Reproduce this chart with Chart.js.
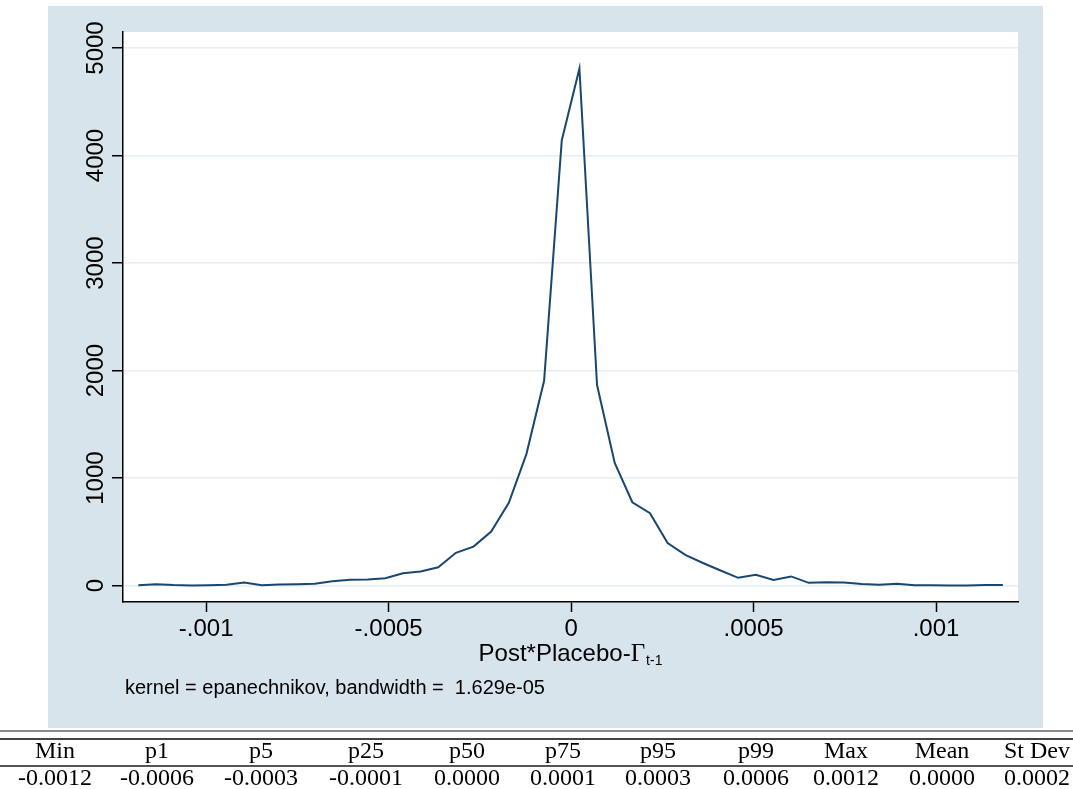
<!DOCTYPE html>
<html>
<head>
<meta charset="utf-8">
<script src="https://cdn.jsdelivr.net/npm/chart.js@4.4.0/dist/chart.umd.min.js"></script>
<style>
body { margin: 0; background: #fff; }
#wrap { position: relative; width: 1073px; height: 789px; overflow: hidden; }
#densityChart { position: absolute; left: 0; top: 0; }
.rule { position: absolute; left: 0; width: 1073px; }
.cell { position: absolute; width: 110px; text-align: center; font-family: "Liberation Serif", "Times New Roman", serif;
        font-size: 24px; line-height: 24px; color: #000; white-space: nowrap; }
</style>
</head>
<body>
<div id="wrap">
    <canvas id="densityChart" width="1073" height="789"></canvas>
    <div class="rule" style="top:730px;height:2px;background:#8a8a8a"></div>
    <div class="rule" style="top:738px;height:1.5px;background:#444"></div>
    <div class="rule" style="top:765px;height:1.5px;background:#555"></div>
</div>
<script>
// grid of the kernel density estimate (x) and the estimated density (y)
var gridPoints = [
    -0.0011860, -0.0011377, -0.0010893, -0.0010410, -0.0009926, -0.0009443, -0.0008959, -0.0008476, -0.0007992, -0.0007509,
    -0.0007025, -0.0006542, -0.0006058, -0.0005575, -0.0005091, -0.0004608, -0.0004124, -0.0003641, -0.0003157, -0.0002674,
    -0.0002190, -0.0001707, -0.0001223, -0.0000740, -0.0000256, 0.0000228, 0.0000711, 0.0001195, 0.0001678, 0.0002162,
    0.0002645, 0.0003129, 0.0003612, 0.0004096, 0.0004579, 0.0005063, 0.0005546, 0.0006030, 0.0006513, 0.0006997,
    0.0007480, 0.0007964, 0.0008447, 0.0008931, 0.0009414, 0.0009898, 0.0010381, 0.0010865, 0.0011348, 0.0011832
];
var density = [
    2, 12, 4, 1, 3, 8, 28, 3, 9, 13,
    17, 40, 55, 56, 68, 115, 130, 170, 305, 362,
    502, 770, 1225, 1905, 4140, 4810, 1865, 1140, 775, 673,
    395, 285, 210, 140, 72, 100, 52, 85, 25, 31,
    28, 14, 7, 16, 2, 2, 0, 0, 6, 4
];
var xTickValues = [-0.001, -0.0005, 0, 0.0005, 0.001];
var xTickLabels = ['-.001', '-.0005', '0', '.0005', '.001'];
var yTickValues = [0, 1000, 2000, 3000, 4000, 5000];
var yTickLabels = ['0', '1000', '2000', '3000', '4000', '5000'];
var statNames = ['Min', 'p1', 'p5', 'p25', 'p50', 'p75', 'p95', 'p99', 'Max', 'Mean', 'St Dev'];
var statValues = ['-0.0012', '-0.0006', '-0.0003', '-0.0001', '0.0000', '0.0001', '0.0003', '0.0006', '0.0012', '0.0000', '0.0002'];
var noteText = 'kernel = epanechnikov, bandwidth =  1.629e-05';

var sans = '"Liberation Sans", Arial, sans-serif';
var bgBlue = 'rgb(216,228,235)';

// summary table under the graph
var colCenters = [55, 157, 261, 366, 467, 563, 658, 756, 846, 942, 1037];
var wrap = document.getElementById('wrap');
statNames.forEach(function (name, i) {
    var head = document.createElement('div');
    head.className = 'cell';
    head.style.left = (colCenters[i] - 55) + 'px';
    head.style.top = '738px';
    head.textContent = name;
    wrap.appendChild(head);
    var val = document.createElement('div');
    val.className = 'cell';
    val.style.left = (colCenters[i] - 55) + 'px';
    val.style.top = '765px';
    val.textContent = statValues[i];
    wrap.appendChild(val);
});

var stataFrame = {
    id: 'stataFrame',
    beforeDraw: function (chart) {
        var ctx = chart.ctx, a = chart.chartArea;
        ctx.save();
        ctx.fillStyle = '#fff';
        ctx.fillRect(0, 0, chart.width, chart.height);
        ctx.fillStyle = bgBlue;
        ctx.fillRect(48, 6, 995, 722);
        ctx.fillStyle = '#fff';
        ctx.fillRect(a.left, a.top, a.right - a.left, a.bottom - a.top);
        ctx.restore();
    },
    afterDraw: function (chart) {
        var ctx = chart.ctx, a = chart.chartArea, yScale = chart.scales.y;
        ctx.save();
        ctx.fillStyle = '#000';

        // rotated y tick labels
        ctx.font = '24px ' + sans;
        ctx.textAlign = 'center';
        ctx.textBaseline = 'alphabetic';
        yTickValues.forEach(function (v, i) {
            ctx.save();
            ctx.translate(103, yScale.getPixelForValue(v));
            ctx.rotate(-Math.PI / 2);
            ctx.fillText(yTickLabels[i], 0, 0);
            ctx.restore();
        });

        // x axis title with subscript
        var main = 'Post*Placebo-', gam = '\u0393', sub = 't-1';
        ctx.textAlign = 'left';
        ctx.font = '24px ' + sans;
        var w1 = ctx.measureText(main).width;
        ctx.font = '25px "Liberation Serif", serif';
        var w2 = ctx.measureText(gam).width;
        ctx.font = '14px ' + sans;
        var w3 = ctx.measureText(sub).width;
        var x0 = (a.left + a.right) / 2 - (w1 + w2 + w3 + 1) / 2;
        ctx.font = '24px ' + sans;
        ctx.fillText(main, x0, 661);
        ctx.font = '25px "Liberation Serif", serif';
        ctx.fillText(gam, x0 + w1, 661);
        ctx.font = '14px ' + sans;
        ctx.fillText(sub, x0 + w1 + w2 + 1, 665);

        // kernel note
        ctx.font = '20px ' + sans;
        ctx.fillText(noteText, 125, 694);
        ctx.restore();
    }
};

var densityCtx = document.getElementById('densityChart').getContext('2d');
var densityChart = new Chart(densityCtx, {
    type: 'line',
    data: {
        datasets: [{
            data: gridPoints.map(function (x, i) { return { x: x, y: density[i] }; }),
            borderColor: '#1a476f',
            borderWidth: 2,
            pointRadius: 0,
            tension: 0,
            fill: false
        }]
    },
    options: {
        responsive: false,
        animation: false,
        devicePixelRatio: 1,
        layout: { padding: { left: 48, right: 55, top: 32, bottom: 127 } },
        plugins: { legend: { display: false }, tooltip: { enabled: false } },
        scales: {
            x: {
                type: 'linear',
                min: -0.001228,
                max: 0.0012247,
                afterBuildTicks: function (scale) {
                    scale.ticks = xTickValues.map(function (v) { return { value: v }; });
                },
                afterFit: function (scale) { scale.height = 60; },
                ticks: {
                    callback: function (v) { return xTickLabels[xTickValues.indexOf(v)]; },
                    font: { size: 24, family: sans },
                    color: '#000',
                    padding: 3,
                    minRotation: 0,
                    maxRotation: 0,
                    autoSkip: false
                },
                grid: { drawOnChartArea: false, tickLength: 10, tickColor: '#000', tickWidth: 1.5 },
                border: { color: '#000', width: 1.5 }
            },
            y: {
                min: -153,
                max: 5149,
                afterBuildTicks: function (scale) {
                    scale.ticks = yTickValues.map(function (v) { return { value: v }; });
                },
                afterFit: function (scale) { scale.width = 75; },
                ticks: { display: false },
                grid: { color: '#e6eef1', lineWidth: 1.5, tickLength: 11, tickColor: '#000', tickWidth: 1.5 },
                border: { color: '#000', width: 1.5 }
            }
        }
    },
    plugins: [stataFrame]
});
</script>
</body>
</html>
